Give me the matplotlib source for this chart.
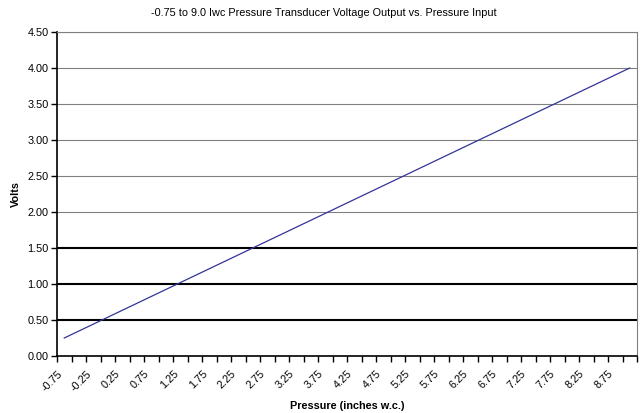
import numpy as np
import matplotlib.pyplot as plt
import matplotlib.transforms as mtransforms

plt.rcParams['font.family'] = ['Liberation Sans', 'DejaVu Sans']

# data: pressure (inches w.c.) vs output (volts)
pressure = [-0.75, 9.0]
volts = [0.25, 4.0]

# category labels, every other one shown
categories = np.arange(-0.75, 9.01, 0.25)
shown_labels = ["%.2f" % c for c in categories[::2]]
yticks = np.arange(0, 4.51, 0.5)
heavy_lines = [0.5, 1.0, 1.5]

fig = plt.figure(figsize=(6.42, 4.13), dpi=100)
ax = fig.add_axes([57 / 642, 57 / 413, 580 / 642, 324 / 413])

step = 0.25
ax.set_xlim(categories[0] - step / 2, categories[-1] + step / 2)
ax.set_ylim(0, 4.5)

# gridlines
for y in yticks[1:]:
    if y in heavy_lines:
        ax.axhline(y, color='black', lw=1.5, zorder=1)
    else:
        ax.axhline(y, color='#808080', lw=0.8, zorder=1)

ax.plot(pressure, volts, color='#333399', lw=0.9, zorder=3)

# category boundaries carry the ticks, labels sit at centres
bounds = np.append(categories - step / 2, categories[-1] + step / 2)
ax.set_xticks(bounds)
ax.set_xticklabels([])
ax.set_xticks(categories[::2], minor=True)
ax.set_xticklabels(shown_labels, minor=True, rotation=45, ha='right', va='top',
                   rotation_mode='anchor', fontsize=7.8)
ax.tick_params(axis='x', which='major', direction='out', length=4, width=1, color='black')
ax.tick_params(axis='x', which='minor', length=0, pad=9)
shift = mtransforms.ScaledTranslation(-7 / 100, 0, fig.dpi_scale_trans)
for lab in ax.get_xticklabels(minor=True):
    lab.set_transform(lab.get_transform() + shift)

ax.set_yticks(yticks)
ax.set_yticklabels(["%.2f" % y for y in yticks], fontsize=7.8)
ax.tick_params(axis='y', direction='out', length=4, width=1, pad=2)

for side in ['left', 'bottom']:
    ax.spines[side].set_color('black')
    ax.spines[side].set_linewidth(1.2)
for side in ['top', 'right']:
    ax.spines[side].set_color('#808080')
    ax.spines[side].set_linewidth(0.8)

ax.set_ylabel('Volts', fontsize=7.8, fontweight='bold', labelpad=5)
ax.set_xlabel('Pressure (inches w.c.)', fontsize=7.8, fontweight='bold', labelpad=6)
fig.text(0.505, 1 - 13 / 413, '-0.75 to 9.0 Iwc Pressure Transducer Voltage Output vs. Pressure Input',
         ha='center', va='center', fontsize=7.8)

fig.savefig('out.png', dpi=100)
